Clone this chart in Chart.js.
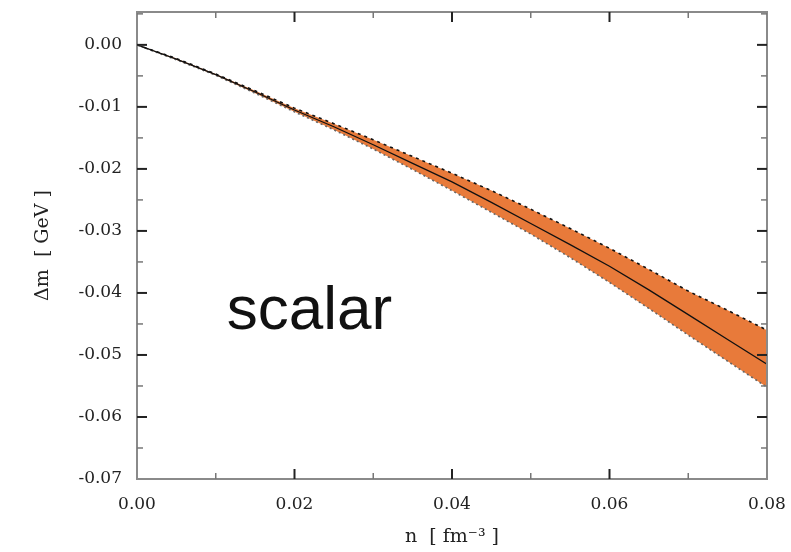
<!DOCTYPE html>
<html>
    <head>
        <meta charset="utf-8">
        <title>scalar mass shift</title>
        <script src="https://cdn.jsdelivr.net/npm/chart.js@4.4.0/dist/chart.umd.min.js"></script>
        <style>
            body { margin: 0; background: #fff; }
        </style>
    </head>
    <body>
        <canvas id="chart" width="791" height="552"></canvas>
        <script>
        // density n [fm^-3] and mass shift [GeV]
        const nValues     = [0, 0.005, 0.01, 0.015, 0.02, 0.025, 0.03, 0.035, 0.04, 0.045, 0.05, 0.055, 0.06, 0.065, 0.07, 0.075, 0.08];
        const centerShift = [0, -0.0023, -0.0048, -0.0076, -0.0105, -0.0132, -0.0161, -0.0191, -0.0221, -0.0254, -0.0288, -0.0322, -0.0357, -0.0395, -0.0435, -0.0475, -0.0515];
        const upperShift  = [0, -0.0022, -0.0047, -0.0074, -0.0102, -0.0127, -0.0153, -0.0180, -0.0207, -0.0235, -0.0265, -0.0296, -0.0328, -0.0362, -0.0397, -0.0428, -0.0460];
        const lowerShift  = [0, -0.0024, -0.0049, -0.0078, -0.0108, -0.0137, -0.0168, -0.0201, -0.0235, -0.0270, -0.0305, -0.0343, -0.0383, -0.0425, -0.0468, -0.0510, -0.0552];

        const xTicks = [0, 0.02, 0.04, 0.06, 0.08];
        const yTicks = [0, -0.01, -0.02, -0.03, -0.04, -0.05, -0.06, -0.07];
        const xMinor = [0.01, 0.03, 0.05, 0.07];
        const yMinor = [0.005, -0.005, -0.015, -0.025, -0.035, -0.045, -0.055, -0.065];

        const pts = ys => nValues.map((x, i) => ({x: x, y: ys[i]}));

        // no automatic padding for half tick labels, keep the plot box where it is
        const noPad = s => { s.paddingTop = 0; s.paddingBottom = 0; s.paddingLeft = 0; s.paddingRight = 0; };

        // frame, inward ticks on all four sides, and the label in the plot
        const framePlugin = {
            id: 'frame',
            afterDraw(chart) {
                const ctx = chart.ctx;
                const a = chart.chartArea;
                const xs = chart.scales.x, ys = chart.scales.y;
                ctx.save();
                ctx.strokeStyle = '#8a8a8a';
                ctx.lineWidth = 2;
                ctx.strokeRect(a.left, a.top, a.right - a.left, a.bottom - a.top);

                function tick(x1, y1, x2, y2, major) {
                    ctx.strokeStyle = major ? '#222' : '#777';
                    ctx.lineWidth = major ? 2 : 1.5;
                    ctx.beginPath();
                    ctx.moveTo(x1, y1);
                    ctx.lineTo(x2, y2);
                    ctx.stroke();
                }
                xTicks.concat(xMinor).forEach(v => {
                    const major = xTicks.includes(v);
                    const len = major ? 10 : 6;
                    const px = xs.getPixelForValue(v);
                    if (px <= a.left + 1 || px >= a.right - 1) return;
                    tick(px, a.bottom, px, a.bottom - len, major);
                    tick(px, a.top, px, a.top + len, major);
                });
                yTicks.concat(yMinor).forEach(v => {
                    const major = yTicks.includes(v);
                    const len = major ? 10 : 6;
                    const py = ys.getPixelForValue(v);
                    if (py >= a.bottom - 1 || py <= a.top + 1) return;
                    tick(a.left, py, a.left + len, py, major);
                    tick(a.right, py, a.right - len, py, major);
                });

                ctx.fillStyle = '#111';
                ctx.font = '62px "Liberation Sans", Arial, sans-serif';
                ctx.textBaseline = 'alphabetic';
                ctx.fillText('scalar', xs.getPixelForValue(0.0114), ys.getPixelForValue(-0.0458));
                ctx.restore();
            }
        };

        const tickFont = {family: '"DejaVu Serif", "Liberation Serif", serif', size: 17};
        const titleFont = {family: '"DejaVu Serif", "Liberation Serif", serif', size: 19};

        const ctx = document.getElementById('chart').getContext('2d');
        const myChart = new Chart(ctx, {
            type: 'scatter',
            data: {
                datasets: [{
                    label: 'central',
                    data: pts(centerShift),
                    showLine: true,
                    borderColor: '#111',
                    borderWidth: 1.3,
                    pointRadius: 0,
                    fill: false
                }, {
                    label: 'upper',
                    data: pts(upperShift),
                    showLine: true,
                    borderColor: '#111',
                    borderWidth: 1.6,
                    borderDash: [3, 4],
                    pointRadius: 0,
                    backgroundColor: 'rgb(232, 122, 58)',
                    fill: '+1'
                }, {
                    label: 'lower',
                    data: pts(lowerShift),
                    showLine: true,
                    borderColor: '#666',
                    borderWidth: 1.6,
                    borderDash: [2, 3],
                    pointRadius: 0,
                    fill: false
                }]
            },
            options: {
                responsive: false,
                animation: false,
                layout: { padding: { left: 0, right: 24, top: 12, bottom: 0 } },
                plugins: {
                    legend: { display: false },
                    tooltip: { enabled: false },
                    filler: { drawTime: 'beforeDatasetsDraw' }
                },
                scales: {
                    x: {
                        type: 'linear',
                        min: 0,
                        max: 0.08,
                        afterBuildTicks: s => { s.ticks = xTicks.map(v => ({value: v})); },
                        afterFit: s => { s.height = 73; noPad(s); },
                        grid: { display: false, drawTicks: false },
                        border: { display: false },
                        ticks: {
                            padding: 15,
                            color: '#222',
                            font: tickFont,
                            maxRotation: 0,
                            callback: v => v.toFixed(2)
                        },
                        title: {
                            display: true,
                            text: 'n  [ fm\u207B\u00B3 ]',
                            color: '#222',
                            font: titleFont,
                            padding: { top: 0, bottom: 4 }
                        }
                    },
                    y: {
                        type: 'linear',
                        min: -0.07,
                        max: 0.0053,
                        afterBuildTicks: s => { s.ticks = yTicks.map(v => ({value: v})); },
                        afterFit: s => { s.width = 137; noPad(s); },
                        grid: { display: false, drawTicks: false },
                        border: { display: false },
                        ticks: {
                            padding: 15,
                            color: '#222',
                            font: tickFont,
                            callback: v => (v === 0 ? 0 : v).toFixed(2)
                        },
                        title: {
                            display: true,
                            text: '\u0394m  [ GeV ]',
                            color: '#222',
                            font: titleFont,
                            padding: { top: 32, bottom: 0 }
                        }
                    }
                }
            },
            plugins: [framePlugin]
        });
        </script>
    </body>
</html>
